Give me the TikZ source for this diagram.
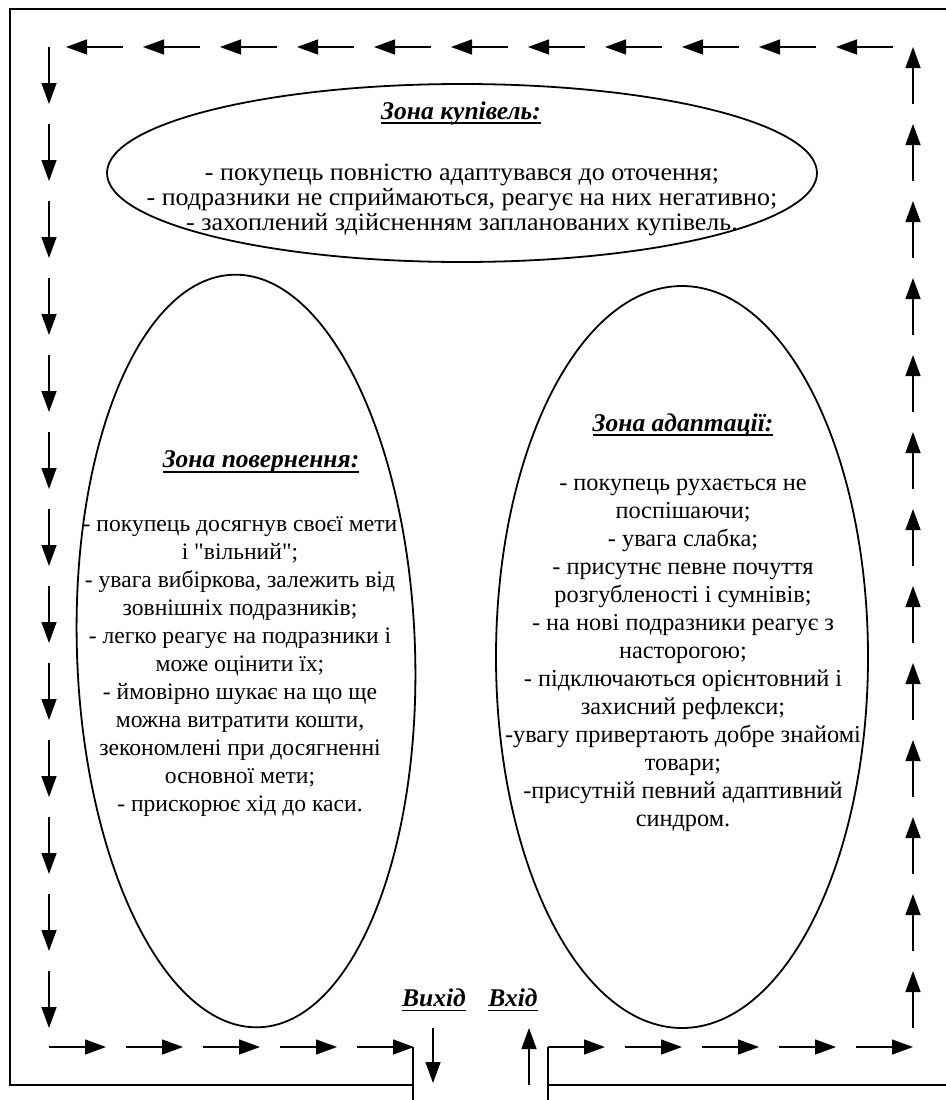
\documentclass[tikz,border=0pt]{standalone}
\usepackage{fontspec}
\setmainfont{Liberation Serif}[Ligatures=TeXOff]
\usetikzlibrary{arrows.meta,shapes.geometric}

% underlined zone title with a rule of fixed thickness
\newcommand\ulined[1]{\setbox0=\hbox{#1}\rlap{\rule[-4.8pt]{\wd0}{1.7pt}}\box0}

\begin{document}
\begin{tikzpicture}[x=1pt,y=-1pt,
  wall/.style={line width=2.6pt},
  gate/.style={line width=2pt},
  zone/.style={draw, ellipse, line width=1.8pt, inner sep=0pt},
  flow/.style={line width=1.4pt, -{Triangle[length=21pt,width=15pt]}},
  body/.style={align=center, font=\fontsize{24.3}{28}\selectfont, inner sep=0pt},
  narrowbody/.style={align=center, font=\fontsize{23.6}{28}\selectfont, inner sep=0pt},
  widebody/.style={align=center, font=\fontsize{25}{25.3}\selectfont\addfontfeature{FakeStretch=1.04}, inner sep=0pt},
  head/.style={font=\fontsize{25.5}{28}\selectfont\bfseries\itshape, inner sep=0pt},
]
\useasboundingbox (0,0) rectangle (945,1100);

% store outline and gate posts
\draw[wall] (413,1085) -- (10,1085) -- (10,9) -- (960,9);
\draw[wall] (548,1085) -- (960,1085);
\coordinate (exitPost) at (413,1047);
\coordinate (entryPost) at (548,1047);
\draw[gate] (exitPost) -- (413,1110);
\draw[gate] (entryPost) -- (548,1110);

% zones
\node[zone, minimum width=710pt, minimum height=178pt] (buy) at (462,173) {};
\node[zone, minimum width=338pt, minimum height=753pt, rotate=2] (ret) at (246,651) {};
\node[zone, minimum width=372pt, minimum height=742pt] (adp) at (682,657) {};

% zone texts
\node[head] (buyHead) at (461,113) {\ulined{Зона купівель:}};
\node[widebody] (buyText) at (462,200) {- покупець повністю адаптувався до оточення;\\
- подразники не сприймаються, реагує на них негативно;\\
- захоплений здійсненням запланованих купівель.};

\node[head] (retHead) at (261,462) {\ulined{Зона повернення:}};
\node[narrowbody] (retText) at (240,667) {- покупець досягнув своєї мети\\
і "вільний";\\
- увага вибіркова, залежить від\\
зовнішніх подразників;\\
- легко реагує на подразники і\\
може оцінити їх;\\
- ймовірно шукає на що ще\\
можна витратити кошти,\\
зекономлені при досягненні\\
основної мети;\\
- прискорює хід до каси.};

\node[head] (adpHead) at (683,425) {\ulined{Зона адаптації:}};
\node[body] (adpText) at (683,655) {- покупець рухається не\\
поспішаючи;\\
- увага слабка;\\
- присутнє певне почуття\\
розгубленості і сумнівів;\\
- на нові подразники реагує з\\
насторогою;\\
- підключаються орієнтовний і\\
захисний рефлекси;\\
-увагу привертають добре знайомі\\
товари;\\
-присутній певний адаптивний\\
синдром.};

% gate labels
\node[head] (exitLbl) at (434,1000) {\ulined{Вихід}};
\node[head] (entryLbl) at (513,1000) {\ulined{Вхід}};

% movement of customers along the walls
\foreach \k in {0,...,10} \draw[flow] ({893-77*\k},47) -- ({836-77*\k},47);
\foreach \k in {0,...,12} \draw[flow] (913,{1028-77*\k}) -- (913,{971-77*\k});
\foreach \k in {0,...,12} \draw[flow] (49,{47+77*\k}) -- (49,{104+77*\k});
\foreach \k in {0,...,4} \draw[flow] ({49+77*\k},1047) -- ({106+77*\k},1047);
\foreach \k in {0,...,4} \draw[flow] ({548+77*\k},1047) -- ({605+77*\k},1047);

% exit and entrance
\coordinate (exitFrom) at (433,1028);
\coordinate (exitTo) at (433,1083);
\coordinate (entryFrom) at (529,1085);
\coordinate (entryTo) at (529,1028);
\draw[flow] (exitFrom) -- (exitTo);
\draw[flow] (entryFrom) -- (entryTo);
\end{tikzpicture}
\end{document}
